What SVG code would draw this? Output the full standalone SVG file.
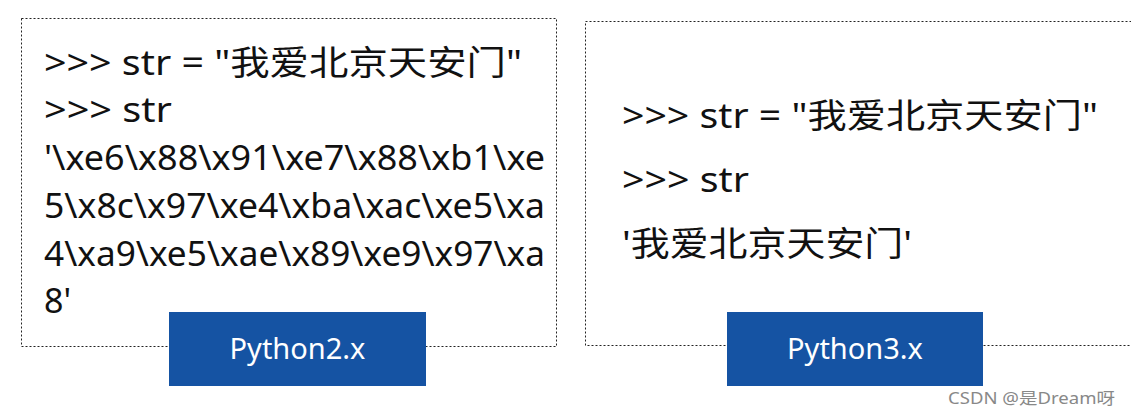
<svg xmlns="http://www.w3.org/2000/svg" width="1131" height="417" viewBox="0 0 1131 417">
<style>
.box{fill:#fff;stroke:#222;stroke-width:1;stroke-dasharray:2 2}
.t{font-family:"Noto Sans","Noto Sans CJK SC",sans-serif;font-size:34px;fill:#111}
.lab{fill:#1553a3}
.lt{font-family:"Noto Sans","Noto Sans CJK SC",sans-serif;font-size:29px;fill:#fff;text-anchor:middle}
</style>
<rect width="1131" height="417" fill="#fff"/>
<g id="left">
<rect class="box" x="21.5" y="18.5" width="535" height="328"/>
<text class="t" x="44" y="75" textLength="478" lengthAdjust="spacingAndGlyphs">&gt;&gt;&gt; str = "我爱北京天安门"</text>
<text class="t" x="44" y="122" textLength="128" lengthAdjust="spacingAndGlyphs">&gt;&gt;&gt; str</text>
<text class="t" x="44" y="170" textLength="501" lengthAdjust="spacingAndGlyphs">'\xe6\x88\x91\xe7\x88\xb1\xe</text>
<text class="t" x="44" y="218" textLength="501" lengthAdjust="spacingAndGlyphs">5\x8c\x97\xe4\xba\xac\xe5\xa</text>
<text class="t" x="44" y="266" textLength="501" lengthAdjust="spacingAndGlyphs">4\xa9\xe5\xae\x89\xe9\x97\xa</text>
<text class="t" x="44" y="313">8'</text>
</g>
<g id="right">
<rect class="box" x="585.5" y="21.5" width="560" height="324"/>
<text class="t" x="622" y="128" textLength="476" lengthAdjust="spacingAndGlyphs">&gt;&gt;&gt; str = "我爱北京天安门"</text>
<text class="t" x="622" y="192" textLength="127" lengthAdjust="spacingAndGlyphs">&gt;&gt;&gt; str</text>
<text class="t" x="622" y="256" textLength="290" lengthAdjust="spacingAndGlyphs">'我爱北京天安门'</text>
</g>
<g id="py2">
<rect class="lab" x="169" y="312" width="257" height="74"/>
<text class="lt" x="297.5" y="359">Python2.x</text>
</g>
<g id="py3">
<rect class="lab" x="727" y="312" width="256" height="74"/>
<text class="lt" x="855" y="359">Python3.x</text>
</g>
<g id="connectors"/>
<text x="948" y="404" font-family="'Noto Sans','Noto Sans CJK SC',sans-serif" font-size="16" fill="#888" textLength="167" lengthAdjust="spacingAndGlyphs">CSDN @是Dream呀</text>
</svg>
